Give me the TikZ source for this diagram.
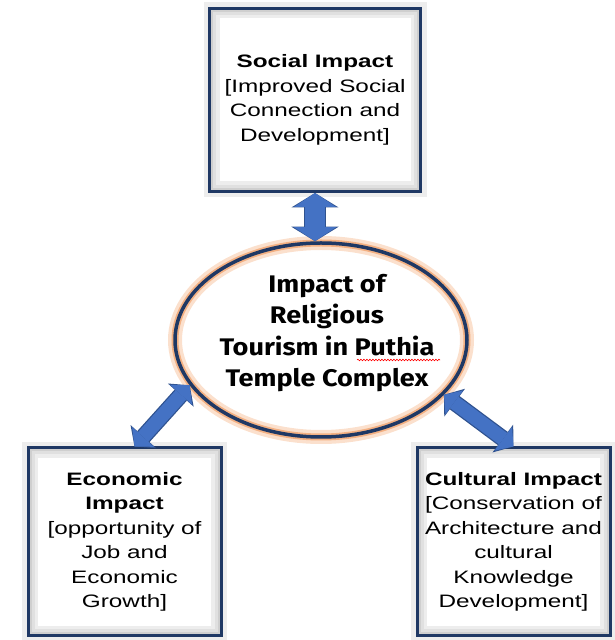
\documentclass[tikz,border=0pt]{standalone}
\usepackage{fontspec}
\setmainfont{Liberation Sans}[FakeStretch=1.35]
\newfontfamily\hubfont{Fira Sans}[FakeStretch=1.13]
\usetikzlibrary{arrows.meta,shapes.geometric,decorations.pathmorphing}

\definecolor{navy}{HTML}{1F3864}
\definecolor{glow}{HTML}{F4B183}
\definecolor{arrowblue}{HTML}{4472C4}
\definecolor{arrowedge}{HTML}{2F528F}

\tikzset{blocktip/.tip={Triangle[width=0pt 2.1, length=10pt 0.2, line width=0pt]}}

\begin{document}
\begin{tikzpicture}[x=1pt, y=1pt,
	impact/.style = {draw=navy, line width=3pt, fill=white, align=center,
		font=\fontsize{18}{24.5}\selectfont,
		preaction={draw=black!7, line width=12pt},
		path picture={
			\draw[line width=20pt, black!7] (path picture bounding box.south west) rectangle (path picture bounding box.north east);
			\draw[line width=13pt, black!12] (path picture bounding box.south west) rectangle (path picture bounding box.north east);
			\draw[line width=7pt, black!19] (path picture bounding box.south west) rectangle (path picture bounding box.north east);}},
	hub/.style = {ellipse, draw=navy, line width=3.5pt, inner sep=0pt,
		minimum width=292pt, minimum height=194pt,
		preaction={draw=glow!40, line width=14pt},
		preaction={draw=glow, line width=7pt}},
	hubtext/.style = {align=center, font=\hubfont\bfseries\fontsize{24}{31.5}\selectfont},
	link/.style = {line width=#1, draw=arrowblue, blocktip-blocktip,
		preaction={draw=arrowedge, line width=#1+2.5pt}},
	spell/.style = {draw=red, line width=0.6pt, decorate,
		decoration={snake, amplitude=0.8pt, segment length=3pt}}]
	\useasboundingbox (0,0) rectangle (615,640);

	\node[impact, minimum width=211pt, minimum height=183pt] (social) at (315,540)
		{\textbf{Social Impact}\\{[}Improved Social\\Connection and\\Development{]}};
	\node[hub] (hub) at (321,300) {};
	\node[hubtext] (hubtext) at ([xshift=6pt, yshift=7pt]hub.center)
		{Impact of\\Religious\\Tourism in Puthia\\Temple Complex};
	\node[impact, minimum width=193pt, minimum height=188pt] (econ) at (124.5,98)
		{\textbf{Economic}\\\textbf{Impact}\\{[}opportunity of\\Job and\\Economic\\Growth{]}};
	\node[impact, minimum width=193pt, minimum height=188pt] (cult) at (513.5,98)
		{\textbf{Cultural Impact}\\{[}Conservation of\\Architecture and\\cultural\\Knowledge\\Development{]}};

	\draw[spell] (357,280) -- (440,280);

	\draw[link=20pt] (social.south) -- (social.south |- hub.north);
	\draw[link=14pt] ([xshift=10pt]econ.north) -- (hub.199);
	\draw[link=14pt] (hub.336) -- (cult.north);
\end{tikzpicture}
\end{document}
